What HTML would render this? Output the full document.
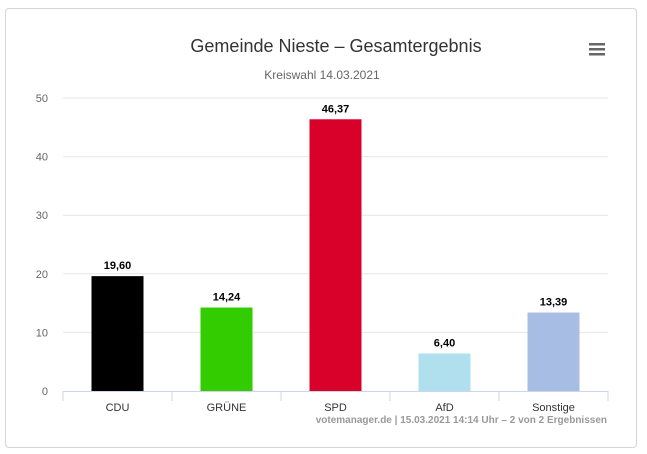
<!DOCTYPE html>
<html><head><meta charset="utf-8"><style>
body{margin:0;background:#fff;font-family:"Liberation Sans","DejaVu Sans",sans-serif;}
#card{position:absolute;left:5px;top:8px;width:632px;height:440px;border:1px solid #d5d5d5;border-radius:4px;box-sizing:border-box;}
svg{position:absolute;left:0;top:0}
</style></head><body>
<div id="card"></div>
<svg id="chart" width="647" height="454">
<text x="336" y="52" text-anchor="middle" font-size="18" fill="#333">Gemeinde Nieste – Gesamtergebnis</text>
<text x="322" y="79" text-anchor="middle" font-size="12" fill="#666">Kreiswahl 14.03.2021</text>
<g>
<rect x="589" y="43" width="16" height="2.5" fill="#666"/><rect x="589" y="48" width="16" height="2.5" fill="#666"/><rect x="589" y="53" width="16" height="2.5" fill="#666"/>
</g>
<g id="grid"></g><g id="bars"></g>
<text x="607" y="423" text-anchor="end" font-size="10" font-weight="bold" fill="#999">votemanager.de | 15.03.2021 14:14 Uhr – 2 von 2 Ergebnissen</text>
</svg>
<script>
const categories=["CDU","GRÜNE","SPD","AfD","Sonstige"];
const values=[19.60,14.24,46.37,6.40,13.39];
const colors=["#000000","#33cc00","#d9002a","#b0dfee","#a8bde3"];
const yTicks=[0,10,20,30,40,50];
const x0=63,x1=608,yTop=98,yBot=391,yMax=50;
const NS="http://www.w3.org/2000/svg";
const y=v=>yBot-(v/yMax)*(yBot-yTop);
const bw=(x1-x0)/categories.length;
const xc=i=>x0+bw*(i+0.5);
const g=document.getElementById('grid'),b=document.getElementById('bars');
function mk(tag,attrs,parent){const e=document.createElementNS(NS,tag);for(const k in attrs)e.setAttribute(k,attrs[k]);parent.appendChild(e);return e;}
yTicks.forEach(t=>{
 if(t>0){const l=mk('line',{x1:x0,x2:x1,y1:y(t),y2:y(t),stroke:'#e6e6e6'},g);
 
 }
 const tx=mk('text',{x:48,y:y(t)+4,'text-anchor':'end','font-size':11,fill:'#666'},g);tx.textContent=t;
 
 
});
const ax=mk('line',{x1:x0,x2:x1,y1:yBot+0.5,y2:yBot+0.5,stroke:'#ccd6eb'},g);


for(let i=0;i<=categories.length;i++){const t=mk('line',{x1:x0+bw*i,x2:x0+bw*i,y1:yBot,y2:yBot+10,stroke:'#ccd6eb'},g);
 
 }
categories.forEach((c,i)=>{
 const w=52;
 const r=mk('rect',{x:xc(i)-w/2,y:y(values[i]),width:w,height:yBot-y(values[i]),fill:colors[i]},b);
 
 
 const v=mk('text',{x:xc(i),y:y(values[i])-7,'text-anchor':'middle','font-size':11,'font-weight':'bold',fill:'#000'},b);
 v.textContent=values[i].toFixed(2).replace('.',',');
 
 
 const l=mk('text',{x:xc(i),y:411,'text-anchor':'middle','font-size':11,fill:'#333'},b);
 l.textContent=c;
 
 
});
</script>
</body></html>
